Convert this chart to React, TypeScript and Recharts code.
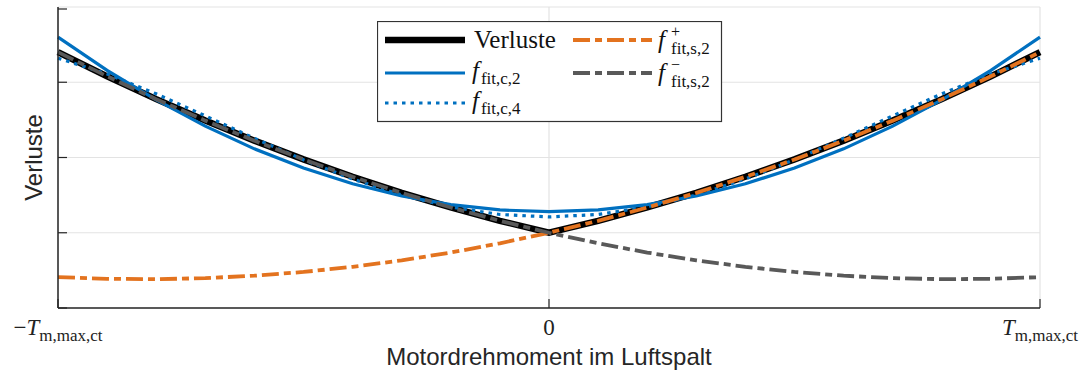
import React from 'react';
import { LineChart, Line, XAxis, YAxis, CartesianGrid, Legend } from 'recharts';

// Torque, normalised to T_m,max,ct
const X_VALUES = [-1, -0.9, -0.8, -0.7, -0.6, -0.5, -0.4, -0.3, -0.2, -0.1, 0, 0.1, 0.2, 0.3, 0.4, 0.5, 0.6, 0.7, 0.8, 0.9, 1];
const VERLUSTE = [3.4, 3.079, 2.776, 2.491, 2.224, 1.975, 1.744, 1.531, 1.336, 1.159, 1.0, 1.159, 1.336, 1.531, 1.744, 1.975, 2.224, 2.491, 2.776, 3.079, 3.4];
const FIT_C2 = [3.6, 3.159, 2.765, 2.417, 2.115, 1.86, 1.651, 1.489, 1.373, 1.303, 1.28, 1.303, 1.373, 1.489, 1.651, 1.86, 2.115, 2.417, 2.765, 3.159, 3.6];
const FIT_C4 = [3.32, 3.11, 2.846, 2.554, 2.255, 1.97, 1.714, 1.501, 1.342, 1.243, 1.21, 1.243, 1.342, 1.501, 1.714, 1.97, 2.255, 2.554, 2.846, 3.11, 3.32];
const FIT_S2_PLUS = [0.41, 0.388, 0.383, 0.397, 0.429, 0.479, 0.547, 0.633, 0.737, 0.86, 1.0, 1.159, 1.335, 1.53, 1.743, 1.974, 2.223, 2.49, 2.775, 3.079, 3.4];
const FIT_S2_MINUS = [3.4, 3.079, 2.775, 2.49, 2.223, 1.974, 1.743, 1.53, 1.335, 1.159, 1.0, 0.86, 0.737, 0.633, 0.547, 0.479, 0.429, 0.397, 0.383, 0.388, 0.41];
const X_TICKS = [-1, 0, 1];
const Y_TICKS = [0, 1, 2, 3, 4];

const BLUE = '#0070C0';
const ORANGE = '#E3731F';
const GRAY = '#595959';
const AXIS = '#262626';
const SERIF = '"Liberation Serif", "DejaVu Serif", serif';
const SANS = '"Liberation Sans", Arial, sans-serif';
const DASHDOT = '17 5 7 5';

const data = X_VALUES.map((x, i) => ({
  x,
  verluste: VERLUSTE[i],
  c2: FIT_C2[i],
  c4: FIT_C4[i],
  sp: FIT_S2_PLUS[i],
  sm: FIT_S2_MINUS[i],
}));

const XTick = (props: any) => {
  const { x, y, payload } = props;
  const v = payload.value;
  let label: React.ReactNode;
  if (v === 0) {
    label = <tspan>0</tspan>;
  } else {
    label = (
      <>
        <tspan>{v < 0 ? '\u2212' : ''}</tspan>
        <tspan fontStyle="italic">T</tspan>
        <tspan fontSize={17} dy={6}>m,max,ct</tspan>
      </>
    );
  }
  return (
    <g>
      <line x1={x} x2={x} y1={y} y2={y - 9} stroke={AXIS} strokeWidth={1.2} />
      <text x={x} y={y + 27} textAnchor="middle" fontFamily={SERIF} fontSize={23} fill="#222">
        {label}
      </text>
    </g>
  );
};

const YTick = (props: any) => {
  const { x, y } = props;
  return <line x1={x} x2={x + 9} y1={y} y2={y} stroke={AXIS} strokeWidth={1.2} />;
};

const XLabel = (props: any) => {
  const { viewBox } = props;
  return (
    <text x={viewBox.x + viewBox.width / 2} y={viewBox.y + 57} textAnchor="middle" fontFamily={SANS} fontSize={24} fill="#262626">
      Motordrehmoment im Luftspalt
    </text>
  );
};

const YLabel = (props: any) => {
  const { viewBox } = props;
  const cx = viewBox.x + 42;
  const cy = viewBox.y + viewBox.height / 2;
  return (
    <text x={cx} y={cy} textAnchor="middle" fontFamily={SANS} fontSize={24} fill="#262626" transform={`rotate(-90, ${cx}, ${cy})`}>
      Verluste
    </text>
  );
};

const LegendBox = () => (
  <svg width={346} height={102} style={{ display: 'block' }}>
    <rect x={0.5} y={0.5} width={344} height={100} fill="#fff" stroke="#333" strokeWidth={1.2} />
    {/* column 1 */}
    <line x1={8} x2={88} y1={19} y2={19} stroke="#000" strokeWidth={6.5} />
    <text x={97} y={27} fontFamily={SERIF} fontSize={25} fill="#111">Verluste</text>

    <line x1={8} x2={88} y1={52} y2={52} stroke={BLUE} strokeWidth={3.2} />
    <text x={95} y={58} fontFamily={SERIF} fontSize={25} fill="#111">
      <tspan fontStyle="italic">f</tspan>
      <tspan fontSize={17} dy={5} dx={2}>fit,c,2</tspan>
    </text>

    <line x1={8} x2={88} y1={82} y2={82} stroke={BLUE} strokeWidth={3.2} strokeDasharray="3.5 5" />
    <text x={95} y={88} fontFamily={SERIF} fontSize={25} fill="#111">
      <tspan fontStyle="italic">f</tspan>
      <tspan fontSize={17} dy={5} dx={2}>fit,c,4</tspan>
    </text>

    {/* column 2 */}
    <line x1={196} x2={275} y1={19} y2={19} stroke={ORANGE} strokeWidth={3.8} strokeDasharray={DASHDOT} />
    <text x={281} y={27} fontFamily={SERIF} fontSize={25} fill="#111">
      <tspan fontStyle="italic">f</tspan>
      <tspan x={294} y={16} fontSize={16}>+</tspan>
      <tspan x={294} y={33} fontSize={17}>fit,s,2</tspan>
    </text>

    <line x1={196} x2={275} y1={52} y2={52} stroke={GRAY} strokeWidth={3.8} strokeDasharray={DASHDOT} />
    <text x={281} y={60} fontFamily={SERIF} fontSize={25} fill="#111">
      <tspan fontStyle="italic">f</tspan>
      <tspan x={294} y={49} fontSize={16}>{'\u2212'}</tspan>
      <tspan x={294} y={66} fontSize={17}>fit,s,2</tspan>
    </text>
  </svg>
);

export default function App() {
  return (
    <div style={{ position: 'absolute', left: 0, top: 0, width: 1084, height: 376, background: '#fff' }}>
      <LineChart width={1084} height={376} data={data} margin={{ top: 7, right: 44, bottom: 0, left: 0 }}>
        <CartesianGrid stroke="#e3e3e3" strokeWidth={1.2} />
        <XAxis
          dataKey="x"
          type="number"
          domain={[-1, 1]}
          ticks={X_TICKS}
          tickSize={0}
          tickMargin={0}
          tick={<XTick />}
          axisLine={{ stroke: AXIS, strokeWidth: 1.5 }}
          tickLine={false}
          height={68}
          label={<XLabel />}
        />
        <YAxis
          type="number"
          domain={[0, 4]}
          ticks={Y_TICKS}
          tickSize={0}
          tickMargin={0}
          tick={<YTick />}
          axisLine={{ stroke: AXIS, strokeWidth: 1.5 }}
          tickLine={false}
          width={58}
          label={<YLabel />}
        />
        <Legend
          layout="horizontal"
          verticalAlign="middle"
          align="center"
          content={() => <LegendBox />}
          wrapperStyle={{ left: 377, top: 21, width: 346, height: 102 }}
        />
        <Line dataKey="verluste" stroke="#000" strokeWidth={6.5} dot={false} type="linear" isAnimationActive={false} />
        <Line dataKey="c2" stroke={BLUE} strokeWidth={3.2} dot={false} type="linear" isAnimationActive={false} />
        <Line dataKey="c4" stroke={BLUE} strokeWidth={3.2} strokeDasharray="3.5 5" dot={false} type="linear" isAnimationActive={false} />
        <Line dataKey="sp" stroke={ORANGE} strokeWidth={3.8} strokeDasharray={DASHDOT} dot={false} type="linear" isAnimationActive={false} />
        <Line dataKey="sm" stroke={GRAY} strokeWidth={3.8} strokeDasharray={DASHDOT} dot={false} type="linear" isAnimationActive={false} />
      </LineChart>
    </div>
  );
}
